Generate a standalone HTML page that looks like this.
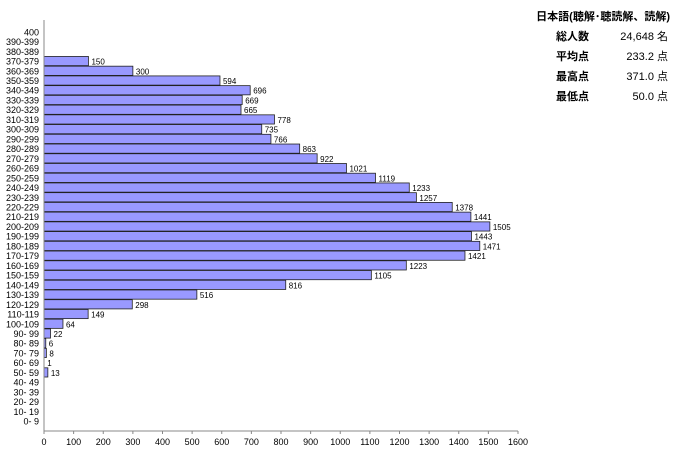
<!DOCTYPE html>
<html><head><meta charset="utf-8"><style>
body{margin:0;background:#fff;width:673px;height:459px;overflow:hidden;font-family:"Liberation Sans","Noto Sans CJK JP",sans-serif}
svg text{font-family:"Liberation Sans","Noto Sans CJK JP",sans-serif}
</style></head><body>
<svg id="c" width="673" height="459">
<g font-size="11" fill="#000">
<text x="670" y="20" text-anchor="end" font-weight="bold">日本語(聴解･聴読解、読解)</text>
<text x="556" y="40" font-weight="bold">総人数</text>
<text x="668" y="40" text-anchor="end">24,648 名</text>
<text x="556" y="60" font-weight="bold">平均点</text>
<text x="668" y="60" text-anchor="end">233.2 点</text>
<text x="556" y="80" font-weight="bold">最高点</text>
<text x="668" y="80" text-anchor="end">371.0 点</text>
<text x="556" y="100" font-weight="bold">最低点</text>
<text x="668" y="100" text-anchor="end">50.0 点</text>
</g>
<g id="plot"></g>
</svg>
<script>
const categories=["400","390-399","380-389","370-379","360-369","350-359","340-349","330-339","320-329","310-319","300-309","290-299","280-289","270-279","260-269","250-259","240-249","230-239","220-229","210-219","200-209","190-199","180-189","170-179","160-169","150-159","140-149","130-139","120-129","110-119","100-109","90- 99","80- 89","70- 79","60- 69","50- 59","40- 49","30- 39","20- 29","10- 19","0- 9"];
const counts=[0,0,0,150,300,594,696,669,665,778,735,766,863,922,1021,1119,1233,1257,1378,1441,1505,1443,1471,1421,1223,1105,816,516,298,149,64,22,6,8,1,13,0,0,0,0,0];
const xTicks=[0,100,200,300,400,500,600,700,800,900,1000,1100,1200,1300,1400,1500,1600];
const NS="http://www.w3.org/2000/svg";
const g=document.getElementById('plot');
const x0=44,x1=518,xMax=1600,yTop=27,pitch=9.73,axisY=431;
const xs=v=>x0+(x1-x0)*v/xMax;
const yc=i=>yTop+pitch*(i+0.5);
function mk(t,a){const e=document.createElementNS(NS,t);for(const k in a)e.setAttribute(k,a[k]);g.appendChild(e);return e;}
categories.forEach((c,i)=>{
  const t=mk('text',{x:39,y:yc(i)+3.5,'text-anchor':'end','font-size':9});
  t.textContent=c;
  
  
  const v=counts[i];
  if(v>0){
    const w=xs(v)-x0;
    if(w>=1){
      const r=mk('rect',{x:x0,y:yc(i)-4.6,width:w,height:9.2,fill:'#9999ff',stroke:'#222','stroke-width':0.8});
      
      
    }
    const l=mk('text',{x:xs(v)+3,y:yc(i)+3.5,'font-size':8});
    l.textContent=v;
    
    
  }
});
const ya=mk('line',{x1:x0,y1:20,x2:x0,y2:axisY,stroke:'#888','stroke-width':1});


const xa=mk('line',{x1:x0,y1:axisY,x2:x1,y2:axisY,stroke:'#888','stroke-width':1});


xTicks.forEach(v=>{
  const tk=mk('line',{x1:xs(v),y1:axisY,x2:xs(v),y2:axisY+3,stroke:'#888'});
  
  
  const t=mk('text',{x:xs(v),y:445,'text-anchor':'middle','font-size':9});
  t.textContent=v;
  
  
});
</script>
</body></html>
